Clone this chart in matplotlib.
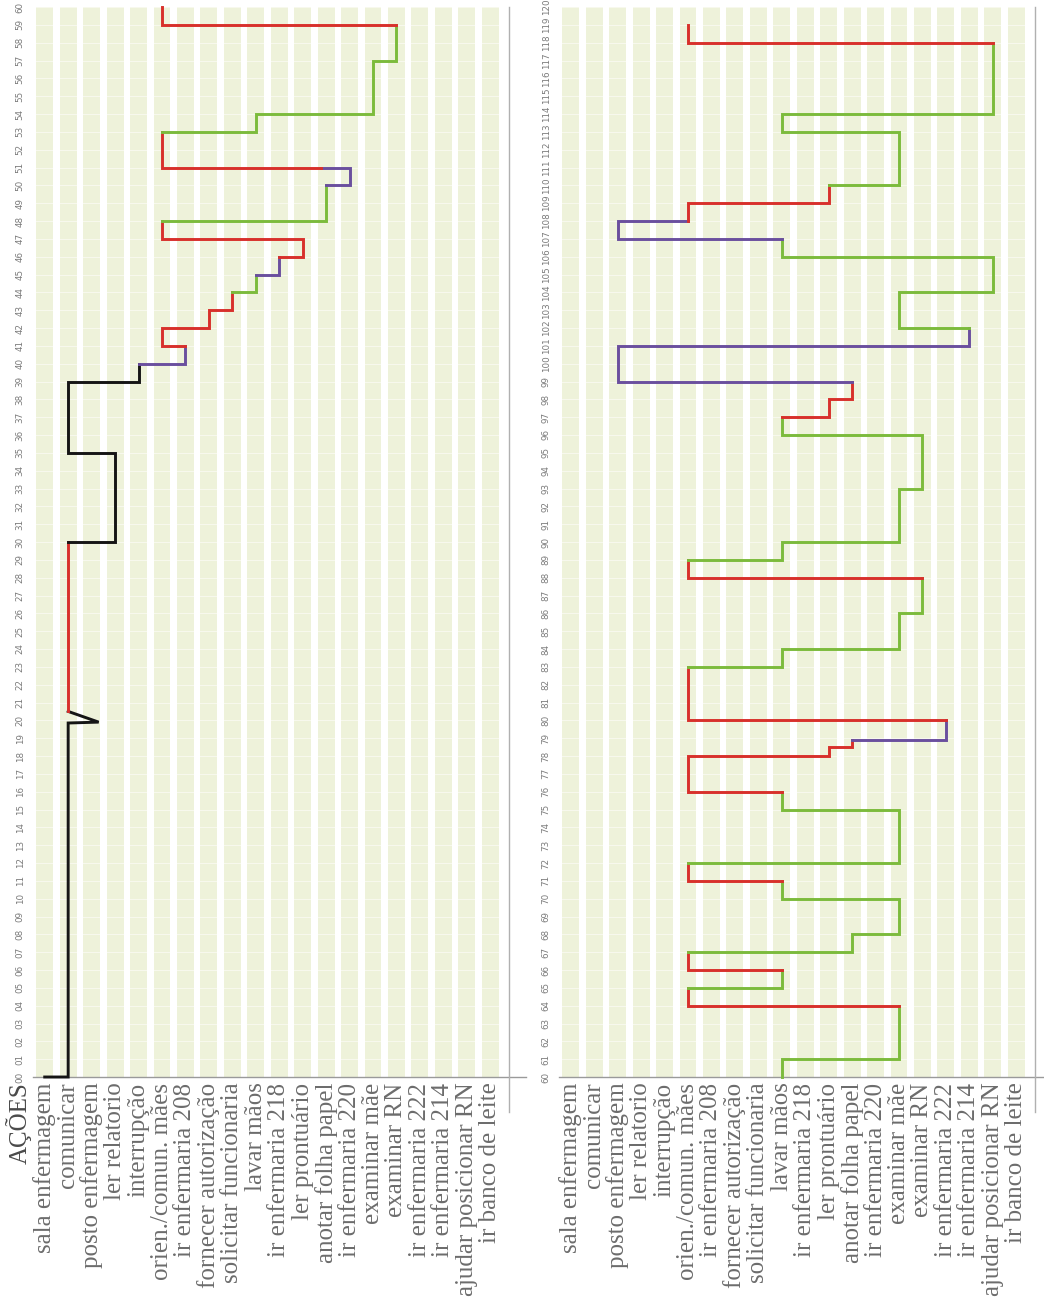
import matplotlib
matplotlib.use("Agg")
import matplotlib.pyplot as plt

# ---------------- data ----------------
CATEGORIES = [
    "sala enfermagem", "comunicar", "posto enfermagem", "ler relatorio",
    "interrupção", "orien./comun. mães", "ir enfermaria 208",
    "fornecer autorização", "solicitar funcionaria", "lavar mãos",
    "ir enfermaria 218", "ler prontuário", "anotar folha papel",
    "ir enfermaria 220", "examinar mãe", "examinar RN", "ir enfermaria 222",
    "ir enfermaria 214", "ajudar posicionar RN", "ir banco de leite",
]

# first hour (minutes 0-60): category index and time of each turning point
LEFT_X = [0, 1, 1, 2.3, 1, 1, 3, 3, 1, 1, 4, 4, 6, 6, 5, 5, 7, 7, 8, 8, 9, 9,
          10, 10, 11, 11, 5, 5, 12, 12, 13, 13, 11.8, 5, 5, 9, 9, 14, 14, 15,
          15, 5, 5]
LEFT_T = [0, 0, 19.85, 19.9, 20.5, 30, 30, 35, 35, 39, 39, 40, 40, 41, 41, 42,
          42, 43, 43, 44, 44, 45, 45, 46, 46, 47, 47, 48, 48, 50, 50, 51, 51,
          51, 53, 53, 54, 54, 57, 57, 59, 59, 60]
# colour of each segment between consecutive points
LEFT_C = list("KKKKRKKKKKKPPRRRRRRGGPPRRRRGGPPPRRGGGGGGRR")

# second hour (minutes 60-120)
RIGHT_X = [9, 9, 14, 14, 5, 5, 9, 9, 5, 5, 12, 12, 14, 14, 9, 9, 5, 5, 14, 14,
           9, 9, 5, 5, 11, 11, 12, 12, 16, 16, 5, 5, 9, 9, 14, 14, 15, 15, 5,
           5, 9, 9, 14, 14, 15, 15, 9, 9, 11, 11, 12, 12, 2, 2, 17, 17, 14, 14,
           18, 18, 9, 9, 2, 2, 5, 5, 11, 11, 14, 14, 9, 9, 18, 18, 5, 5]
RIGHT_T = [60, 61, 61, 64, 64, 65, 65, 66, 66, 67, 67, 68, 68, 70, 70, 71, 71,
           72, 72, 75, 75, 76, 76, 78, 78, 78.5, 78.5, 78.9, 78.9, 80, 80, 83,
           83, 84, 84, 86, 86, 88, 88, 89, 89, 90, 90, 93, 93, 96, 96, 97, 97,
           98, 98, 99, 99, 101, 101, 102, 102, 104, 104, 106, 106, 107, 107,
           108, 108, 109, 109, 110, 110, 113, 113, 114, 114, 118, 118, 119]
RIGHT_C = list("GGGRRGGRRGGGGGGRRGGGGRRRRRRPPRRGGGGGGRRGGGGGGGGRRRRPPPPGGGGGGPPPRRRGGGGGGRR")

COLORS = {"K": "#151515", "R": "#d8302b", "G": "#7cbb3c", "P": "#6a4f9e"}

# ---------------- layout ----------------
W, H = 1044, 1304
fig = plt.figure(figsize=(W / 100, H / 100), dpi=100)
fig.patch.set_facecolor("white")

BAND = "#eef2da"
LABEL_FONT = "Liberation Serif"


def draw_panel(x0_px, t0, xs, ts, cols):
    ax = fig.add_axes([x0_px / W, (H - 1077) / H, 476 / W, 1070 / H])
    ax.set_facecolor("white")
    ax.set_xlim(-0.5, 19.8)
    ax.set_ylim(t0, t0 + 60)
    for i in range(len(CATEGORIES)):
        ax.axvspan(i - 0.36, i + 0.36, color=BAND, lw=0, zorder=0)
    for t in range(t0, t0 + 61):
        ax.axhline(t, color="white", lw=0.7, alpha=0.55, zorder=0.5)
    for s in ax.spines.values():
        s.set_visible(False)

    # group consecutive segments of the same colour
    start = 0
    n = len(cols)
    for k in range(1, n + 1):
        if k == n or cols[k] != cols[start]:
            ax.plot(xs[start:k + 1], ts[start:k + 1], color=COLORS[cols[start]],
                    lw=2.1, solid_joinstyle="miter", solid_capstyle="projecting",
                    clip_on=False, zorder=3)
            start = k

    ax.set_xticks(range(len(CATEGORIES)))
    ax.set_xticklabels(CATEGORIES, rotation=90, fontsize=18,
                       family=LABEL_FONT, color="#6c6c6c")
    ax.set_yticks(range(t0, t0 + 61))
    ax.set_yticklabels([f"{t:02d}" for t in range(t0, t0 + 61)], rotation=90,
                       fontsize=6.3, color="#7a7a7a", va="center")
    ax.tick_params(axis="x", length=0, pad=4)
    ax.tick_params(axis="y", length=0, pad=6)

    ax.plot([0, 1.035], [0, 0], transform=ax.transAxes, clip_on=False,
            color="#9a9a9a", lw=1.0, zorder=2)
    ax.plot([1.0, 1.0], [-0.033, 1.0], transform=ax.transAxes, clip_on=False,
            color="#b0b0b0", lw=1.0, zorder=2)
    return ax


axL = draw_panel(33, 0, LEFT_X, LEFT_T, LEFT_C)
axR = draw_panel(559, 60, RIGHT_X, RIGHT_T, RIGHT_C)

fig.text(19 / W, 1 - 1123 / H, "AÇÕES", rotation=90, ha="center", va="center",
         fontsize=18, family=LABEL_FONT, color="#4a4a4a")

fig.savefig("out.png", dpi=100, facecolor="white")
